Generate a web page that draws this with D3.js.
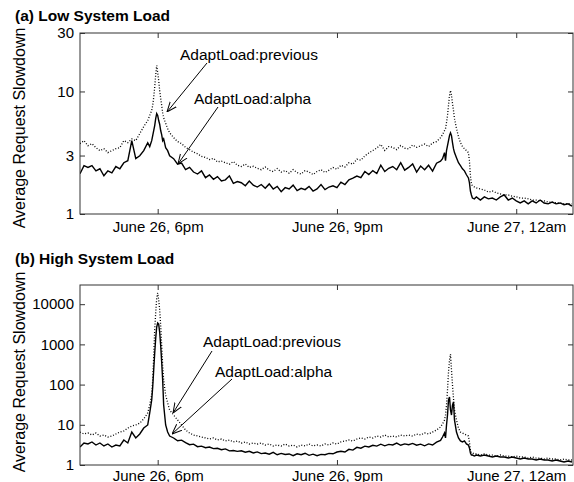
<!DOCTYPE html>
<html lang="en">
<head>
    <meta charset="UTF-8">
    <title>Average Request Slowdown</title>
    <style>
        body { margin: 0; background: #fff; }
        svg { display: block; font-family: "Liberation Sans", Arial, sans-serif; }
        .panel-title { font-size: 15.5px; font-weight: bold; }
        .ylabel { font-size: 16px; text-anchor: middle; }
        .note { font-size: 15.5px; }
    </style>
</head>
<body>
    <div id="chart"></div>

    <script src="https://d3js.org/d3.v7.min.js"></script>
    <script>
        // sample times, minutes after 4pm on June 26 (denser around the spikes)
        const minutes = [
            42, 46, 50, 54, 58, 62, 66, 70, 74, 78, 82, 86, 90, 94, 98, 102, 106, 110,
            112, 114, 115, 116, 117, 118, 119, 120, 121, 122, 123, 124, 125, 126, 128, 130, 132,
            136, 140, 144, 148, 152, 156, 160, 164, 168, 172, 176, 180, 184, 188, 192, 196, 200,
            204, 208, 212, 216, 220, 224, 228, 232, 236, 240, 244, 248, 252, 256, 260, 264, 268,
            272, 276, 280, 284, 288, 292, 296, 300, 304, 308, 312, 316, 320, 324, 328, 332, 336,
            340, 344, 348, 352, 356, 360, 364, 368, 372, 376, 380, 384, 388, 392, 396, 400, 404,
            406, 408, 409, 410, 411, 412, 413, 414, 415, 416, 417, 418, 420, 422, 424, 426, 428,
            430, 432, 433, 434, 435, 436, 438,
            440, 444, 448, 452, 456, 460, 464, 468, 472, 476, 480, 484, 488, 492, 496, 500, 504,
            508, 512, 516, 520, 524, 528, 532, 536
        ];

        // (a) low system load
        const lowAlpha = [
            2.13, 2.48, 2.4, 2.48, 2.25, 2.34, 2.05, 2.25, 2.17, 2.44, 2.34, 2.62, 2.72, 3.97, 2.83, 2.99, 3.29, 3.82,
            3.55, 3.97, 4.36, 4.8, 5.27, 6.0, 6.6, 6.37, 5.79, 5.4, 4.8, 4.45, 3.97, 4.1, 3.48, 3.29, 2.99,
            2.83, 2.55, 2.6, 2.3, 2.4, 2.2, 2.12, 2.25, 1.98, 2.08, 1.92, 2.02, 1.86, 1.9, 2.05, 1.78, 1.84,
            1.8, 1.7, 1.86, 1.72, 1.66, 1.74, 1.62, 1.76, 1.6, 1.68, 1.52, 1.64, 1.6, 1.72, 1.55, 1.62, 1.58,
            1.68, 1.54, 1.6, 1.74, 1.58, 1.66, 1.7, 1.64, 1.82, 1.74, 1.9, 1.96, 2.04, 1.98, 2.22, 2.1, 2.26,
            2.14, 2.5, 2.22, 2.36, 2.44, 2.3, 2.62, 2.28, 2.4, 2.56, 2.2, 2.46, 2.3, 2.5, 2.24, 2.6, 2.7,
            2.83, 3.17, 2.72, 3.29, 3.61, 3.97, 4.36, 4.6, 4.36, 3.82, 3.41, 3.17, 2.88, 2.62, 2.48, 2.34, 2.25,
            2.09, 1.97, 1.8, 1.54, 1.43, 1.35, 1.33,
            1.38, 1.3, 1.38, 1.33, 1.35, 1.3, 1.38, 1.43, 1.3, 1.35, 1.28, 1.23, 1.28, 1.21, 1.28, 1.23, 1.3,
            1.23, 1.21, 1.25, 1.21, 1.23, 1.19, 1.21, 1.16
        ];
        const lowPrevious = [
            3.75, 3.97, 3.61, 3.75, 3.48, 3.29, 3.41, 3.17, 3.29, 3.41, 3.48, 3.97, 3.82, 4.1, 3.97, 4.53, 5.17, 5.79,
            6.37, 7.0, 7.7, 8.95, 10.8, 13.6, 16.3, 14.3, 12.3, 10.2, 8.8, 7.7, 6.7, 6.1, 5.5, 4.98, 4.6,
            4.2, 3.9, 3.75, 3.5, 3.35, 3.2, 3.1, 2.95, 2.9, 2.78, 2.85, 2.66, 2.7, 2.62, 2.55, 2.68, 2.5,
            2.44, 2.56, 2.4, 2.45, 2.36, 2.3, 2.42, 2.28, 2.22, 2.35, 2.2, 2.26, 2.15, 2.3, 2.18, 2.12, 2.26,
            2.2, 2.1, 2.22, 2.3, 2.18, 2.28, 2.4, 2.32, 2.5, 2.42, 2.62, 2.55, 2.8, 2.75, 2.98, 3.15, 3.3,
            3.45, 3.7, 3.3, 3.55, 3.5, 3.35, 3.62, 3.45, 3.4, 3.66, 3.5, 3.6, 3.72, 3.55, 3.8, 3.9, 4.2,
            4.45, 4.8, 4.98, 5.57, 6.37, 7.7, 9.3, 10.2, 9.3, 8.0, 7.0, 6.0, 4.98, 4.28, 3.82, 3.55, 3.41,
            3.29, 3.17, 2.72, 2.05, 1.76, 1.7, 1.66,
            1.63, 1.6, 1.57, 1.51, 1.54, 1.49, 1.46, 1.43, 1.43, 1.4, 1.38, 1.35, 1.35, 1.33, 1.3, 1.3, 1.28,
            1.28, 1.25, 1.25, 1.23, 1.23, 1.21, 1.21, 1.21
        ];

        // (b) high system load
        const highAlpha = [
            2.8, 3.53, 3.33, 3.74, 3.14, 3.53, 2.97, 3.33, 2.8, 3.14, 2.97, 4.18, 3.53, 6.6, 4.7, 5.9, 8.3, 9.9,
            19.7, 41.4, 87, 230, 600, 1400, 2700, 3400, 3200, 2000, 960, 370, 130, 31, 9.9, 6.6, 5.26,
            4.7, 4.0, 4.15, 3.6, 3.2, 3.3, 2.85, 2.95, 2.7, 2.8, 2.55, 2.6, 2.4, 2.52, 2.25, 2.3, 2.18,
            2.26, 2.08, 2.2, 2.0, 2.12, 1.92, 1.98, 1.86, 2.06, 1.8, 1.94, 1.82, 1.88, 1.7, 1.9, 1.8, 1.96,
            1.74, 1.86, 1.7, 1.84, 1.8, 1.95, 1.9, 2.1, 2.2, 2.1, 2.45, 2.35, 2.75, 2.62, 2.95, 2.82, 3.1,
            2.95, 3.3, 3.0, 3.25, 3.15, 3.5, 3.1, 3.35, 3.2, 3.45, 3.1, 3.3, 3.0, 3.35, 3.15, 3.7, 4.1,
            4.97, 6.25, 4.7, 9.9, 17.5, 41.4, 49, 23.3, 17.5, 31, 37, 13.2, 6.6, 4.7, 3.96, 3.74, 3.96,
            3.33, 3.14, 2.65, 1.99, 1.77, 1.77, 1.67,
            1.77, 1.67, 1.77, 1.67, 1.58, 1.67, 1.58, 1.58, 1.49, 1.58, 1.49, 1.41, 1.49, 1.41, 1.41, 1.33, 1.41,
            1.33, 1.33, 1.26, 1.33, 1.26, 1.19, 1.26, 1.19
        ];
        const highPrevious = [
            6.6, 5.9, 6.25, 5.57, 6.25, 5.26, 5.57, 4.97, 5.26, 5.9, 6.6, 7.0, 8.3, 9.3, 9.9, 11, 14, 19.7,
            31, 55, 130, 490, 2300, 6000, 14000, 19000, 12800, 7200, 3000, 960, 300, 130, 55, 35, 23.3,
            17.5, 13.2, 9.9, 7.42, 6.25, 5.57, 5.26, 4.97, 4.7, 4.43, 4.7, 4.18, 4.43, 3.96, 4.18, 3.74, 3.96,
            3.53, 3.74, 3.33, 3.53, 3.33, 3.53, 3.14, 3.33, 2.97, 3.14, 2.97, 3.33, 2.97, 3.14, 2.8, 3.14, 2.97,
            3.33, 2.97, 3.14, 2.97, 3.33, 3.14, 3.53, 3.33, 3.74, 3.96, 4.18, 3.96, 4.43, 4.7, 4.43, 4.97, 4.7,
            5.26, 4.97, 5.57, 4.97, 5.26, 4.97, 5.57, 5.26, 5.57, 5.26, 5.9, 5.57, 6.25, 5.9, 6.6, 7.42, 8.8,
            10.5, 13.2, 17.5, 31, 73.5, 205, 410, 570, 230, 98, 46, 23.3, 13.2, 8.3, 6.6, 6.25, 5.9,
            5.57, 5.26, 3.74, 2.36, 1.99, 1.99, 1.88,
            1.88, 1.77, 1.88, 1.77, 1.77, 1.67, 1.77, 1.67, 1.67, 1.58, 1.67, 1.58, 1.58, 1.49, 1.58, 1.49, 1.49,
            1.41, 1.49, 1.41, 1.41, 1.33, 1.41, 1.33, 1.33
        ];

        const xTickMinutes = [120, 300, 480];
        const xTickLabels = ["June 26, 6pm", "June 26, 9pm", "June 27, 12am"];
        const lowYTicks = [1, 3, 10, 30];
        const highYTicks = [1, 10, 100, 1000, 10000];

        const width = 574, height = 482;
        const left = 80, right = 573;
        const t0 = new Date(2004, 5, 26, 16, 0);
        const toDate = m => new Date(t0.getTime() + m * 60000);

        const svg = d3.select("#chart").append("svg")
            .attr("width", width)
            .attr("height", height);

        // open arrowhead
        svg.append("defs").append("marker")
            .attr("id", "arrow")
            .attr("viewBox", "0 0 10 10")
            .attr("refX", 10).attr("refY", 5)
            .attr("markerWidth", 10).attr("markerHeight", 10)
            .attr("markerUnits", "userSpaceOnUse")
            .attr("orient", "auto")
            .append("path")
            .attr("d", "M0,1 L10,5 L0,9")
            .attr("fill", "none")
            .attr("stroke", "#000")
            .attr("stroke-width", 1);

        const x = d3.scaleTime()
            .domain([toDate(42), toDate(537)])
            .range([left, right]);

        function drawPanel(cfg) {
            const y = d3.scaleLog().domain(cfg.domain).range([cfg.bottom, cfg.top]);
            const g = svg.append("g");

            g.append("text")
                .attr("class", "panel-title")
                .attr("x", 15).attr("y", cfg.titleY)
                .text(cfg.title);

            g.append("text")
                .attr("class", "ylabel")
                .attr("transform", `translate(25,${cfg.labelY}) rotate(-90)`)
                .text("Average Request Slowdown");

            const clipId = "clip-" + cfg.key;
            g.append("clipPath").attr("id", clipId)
                .append("rect")
                .attr("x", left).attr("y", cfg.top)
                .attr("width", right - left).attr("height", cfg.bottom - cfg.top);

            const tickDates = xTickMinutes.map(toDate);
            const styleAxis = sel => {
                sel.select(".domain").remove();
                sel.selectAll("line").attr("stroke", "#333");
                sel.selectAll("text")
                    .attr("font-size", 15)
                    .attr("font-family", "'Liberation Sans', Arial, sans-serif")
                    .attr("fill", "#000");
            };

            g.append("g")
                .attr("transform", `translate(0,${cfg.bottom})`)
                .call(d3.axisBottom(x).tickValues(tickDates).tickSize(-5).tickPadding(cfg.xPad)
                    .tickFormat((d, i) => xTickLabels[i]))
                .call(styleAxis);
            g.append("g")
                .attr("transform", `translate(0,${cfg.top})`)
                .call(d3.axisTop(x).tickValues(tickDates).tickSize(-5).tickFormat(""))
                .call(styleAxis);
            g.append("g")
                .attr("transform", `translate(${left},0)`)
                .call(d3.axisLeft(y).tickValues(cfg.yTicks).tickSize(-5).tickPadding(6)
                    .tickFormat(d3.format("d")))
                .call(styleAxis);
            g.append("g")
                .attr("transform", `translate(${right},0)`)
                .call(d3.axisRight(y).tickValues(cfg.yTicks).tickSize(-5).tickFormat(""))
                .call(styleAxis);

            const line = d3.line()
                .x((d, i) => x(toDate(minutes[i])))
                .y(d => y(d));

            const plot = g.append("g").attr("clip-path", `url(#${clipId})`);
            plot.append("path")
                .datum(cfg.previous)
                .attr("d", line)
                .attr("fill", "none")
                .attr("stroke", "#000")
                .attr("stroke-width", 1.3)
                .attr("stroke-dasharray", "1,1.8");
            plot.append("path")
                .datum(cfg.alpha)
                .attr("d", line)
                .attr("fill", "none")
                .attr("stroke", "#000")
                .attr("stroke-width", 1.4);

            g.append("rect")
                .attr("x", left).attr("y", cfg.top)
                .attr("width", right - left).attr("height", cfg.bottom - cfg.top)
                .attr("fill", "none")
                .attr("stroke", "#333")
                .attr("stroke-width", 1);

            cfg.notes.forEach(n => {
                g.append("text")
                    .attr("class", "note")
                    .attr("x", n.tx).attr("y", n.ty)
                    .text(n.text);
                g.append("line")
                    .attr("x1", n.x1).attr("y1", n.y1)
                    .attr("x2", n.x2).attr("y2", n.y2)
                    .attr("stroke", "#000")
                    .attr("stroke-width", 1)
                    .attr("marker-end", "url(#arrow)");
            });
        }

        drawPanel({
            key: "low", title: "(a) Low System Load", titleY: 21,
            top: 33, bottom: 214, labelY: 128, xPad: 7,
            domain: [1, 30], yTicks: lowYTicks,
            alpha: lowAlpha, previous: lowPrevious,
            notes: [
                { text: "AdaptLoad:previous", tx: 180, ty: 60, x1: 207, y1: 63, x2: 167, y2: 112 },
                { text: "AdaptLoad:alpha", tx: 194, ty: 104, x1: 218, y1: 107, x2: 178, y2: 164 }
            ]
        });

        drawPanel({
            key: "high", title: "(b) High System Load", titleY: 264,
            top: 285, bottom: 465, labelY: 372, xPad: 5,
            domain: [1, 30000], yTicks: highYTicks,
            alpha: highAlpha, previous: highPrevious,
            notes: [
                { text: "AdaptLoad:previous", tx: 203, ty: 347, x1: 212, y1: 351, x2: 173, y2: 413 },
                { text: "AdaptLoad:alpha", tx: 215, ty: 377, x1: 232, y1: 379, x2: 172, y2: 434 }
            ]
        });
    </script>
</body>
</html>
